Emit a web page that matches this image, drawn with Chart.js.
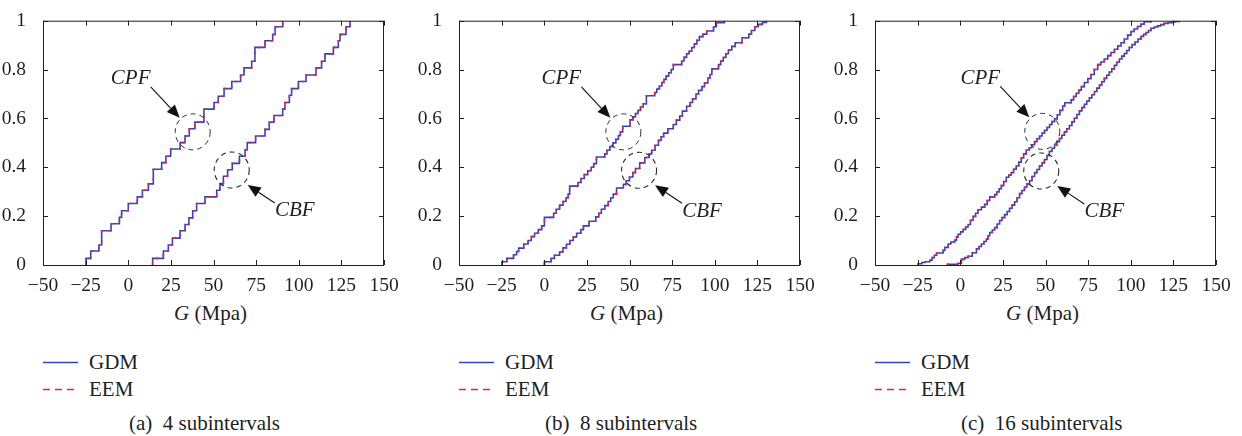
<!DOCTYPE html>
<html>
<head>
<meta charset="utf-8">
<script src="https://cdn.jsdelivr.net/npm/chart.js@4.4.0/dist/chart.umd.min.js"></script>
<style>
body { margin: 0; background: #fff; width: 1242px; height: 436px; overflow: hidden; position: relative;
       font-family: "Liberation Serif", "Times New Roman", Tinos, "Nimbus Roman", "DejaVu Serif", "Noto Serif", FreeSerif, serif; color: #231f20; }
.panel { position: absolute; top: 0; width: 416px; height: 436px; }
.panel canvas { position: absolute; left: 0; top: 0; }
.xlabel { position: absolute; top: 300px; left: 40px; width: 341px; text-align: center; font-size: 21px; line-height: 26px; }
.leg { position: absolute; left: 43px; height: 24px; font-size: 21px; line-height: 24px; }
.leg svg { position: absolute; left: 0; top: 0; }
.leg span { position: absolute; left: 46px; top: 0; }
.caption { position: absolute; left: 129px; top: 410px; font-size: 21px; line-height: 26px; white-space: pre; }
</style>
</head>
<body>
<div id="root"></div>
<script>
// axis ticks
const xTicks = [-50, -25, 0, 25, 50, 75, 100, 125, 150];
const xTickLabels = ['\u221250', '\u221225', '0', '25', '50', '75', '100', '125', '150'];
const yTicks = [0, 0.2, 0.4, 0.6, 0.8, 1];
const yTickLabels = ['0', '0.2', '0.4', '0.6', '0.8', '1'];

const seriesNames = ['GDM', 'EEM'];
const captions = ['(a)  4 subintervals', '(b)  8 subintervals', '(c)  16 subintervals'];

// (a) 4 subintervals
const cpf4X = [-24.8, -24.8, -22.0, -17.2, -15.6, -10.1, -5.2, -3.9, 0.0, 5.3, 8.3, 11.8, 14.7, 19.6, 22.1, 24.9, 30.4, 33.3, 35.8, 39.1, 44.4, 50.3, 52.8, 56.2, 60.7, 65.9, 67.9, 72.4, 74.3, 80.2, 84.7, 86.1, 90.6];
const cpf4Y = [0, 0.027, 0.057, 0.082, 0.14, 0.169, 0.195, 0.222, 0.252, 0.279, 0.306, 0.332, 0.392, 0.419, 0.445, 0.475, 0.501, 0.528, 0.558, 0.585, 0.638, 0.665, 0.691, 0.722, 0.751, 0.778, 0.807, 0.834, 0.891, 0.918, 0.944, 0.975, 1.0];
const cbf4X = [14.3, 14.3, 20.6, 23.5, 25.9, 30.4, 33.3, 35.6, 37.8, 40.1, 45.0, 51.9, 53.8, 55.8, 58.3, 61.0, 65.2, 68.5, 69.8, 74.7, 80.2, 82.7, 85.5, 90.6, 91.9, 94.5, 95.8, 99.8, 104.3, 110.1, 113.4, 115.4, 120.3, 123.2, 124.2, 127.7, 130.1];
const cbf4Y = [0, 0.027, 0.057, 0.082, 0.11, 0.14, 0.166, 0.193, 0.222, 0.252, 0.279, 0.306, 0.332, 0.363, 0.39, 0.416, 0.445, 0.472, 0.501, 0.528, 0.555, 0.585, 0.612, 0.638, 0.665, 0.695, 0.722, 0.751, 0.778, 0.807, 0.834, 0.864, 0.891, 0.918, 0.944, 0.975, 1.0];

// (b) 8 subintervals
const cpf8X = [-24.8, -24.8, -21.9, -18.0, -16.2, -15.0, -12.0, -9.5, -7.6, -5.7, -3.5, -1.5, 0.1, 5.5, 7.0, 9.0, 11.0, 12.8, 14.0, 14.9, 19.8, 21.5, 23.5, 25.5, 27.5, 29.0, 30.6, 35.5, 36.8, 38.5, 40.3, 42.0, 43.5, 44.6, 46.0, 50.3, 52.0, 53.5, 55.0, 56.5, 58.0, 59.9, 64.8, 66.0, 67.5, 69.0, 70.2, 71.5, 73.0, 74.5, 75.7, 80.6, 82.0, 83.5, 85.0, 86.5, 88.0, 89.5, 91.0, 93.0, 95.3, 99.3, 101.0, 105.6];
const cpf8Y = [0, 0.013, 0.027, 0.042, 0.055, 0.069, 0.086, 0.1, 0.116, 0.13, 0.145, 0.16, 0.195, 0.212, 0.228, 0.245, 0.26, 0.275, 0.29, 0.323, 0.338, 0.354, 0.37, 0.386, 0.4, 0.415, 0.442, 0.455, 0.47, 0.485, 0.5, 0.515, 0.53, 0.545, 0.568, 0.594, 0.607, 0.62, 0.633, 0.647, 0.66, 0.693, 0.706, 0.72, 0.733, 0.747, 0.76, 0.773, 0.787, 0.8, 0.82, 0.835, 0.85, 0.865, 0.875, 0.89, 0.905, 0.92, 0.935, 0.945, 0.958, 0.975, 0.992, 1.0];
const cbf8X = [0.1, 0.1, 4.0, 6.0, 9.0, 11.0, 13.0, 15.0, 17.0, 19.0, 21.5, 23.0, 26.3, 30.2, 32.0, 33.5, 35.5, 37.5, 39.0, 40.5, 42.4, 46.4, 48.0, 50.0, 52.0, 53.5, 56.0, 59.0, 61.5, 63.0, 65.0, 67.0, 68.5, 70.0, 72.5, 75.7, 77.5, 79.5, 81.0, 83.5, 85.5, 87.0, 89.0, 90.5, 92.5, 94.0, 96.0, 97.2, 98.3, 102.2, 103.5, 105.0, 106.5, 108.0, 110.0, 112.0, 116.0, 120.0, 121.5, 123.5, 125.5, 128.0, 130.3];
const cbf8Y = [0, 0.013, 0.027, 0.04, 0.053, 0.07, 0.085, 0.1, 0.115, 0.13, 0.145, 0.16, 0.179, 0.197, 0.212, 0.228, 0.243, 0.26, 0.275, 0.29, 0.315, 0.33, 0.345, 0.36, 0.378, 0.395, 0.418, 0.44, 0.455, 0.47, 0.49, 0.51, 0.525, 0.54, 0.558, 0.575, 0.593, 0.61, 0.63, 0.65, 0.665, 0.68, 0.7, 0.715, 0.73, 0.745, 0.765, 0.78, 0.803, 0.82, 0.835, 0.85, 0.865, 0.88, 0.895, 0.91, 0.93, 0.945, 0.96, 0.975, 0.985, 0.993, 1.0];

// (c) 16 subintervals
const cpf16X = [-24.7, -24.7, -22.5, -20.8, -17.8, -16.5, -15.2, -13.9, -10.0, -9.0, -7.1, -5.5, -3.2, -2.2, -1.3, 0.2, 1.7, 3.2, 4.6, 6.0, 7.5, 9.0, 10.4, 12.4, 14.3, 15.8, 17.3, 20.2, 21.5, 22.8, 24.1, 25.5, 27.0, 28.5, 29.9, 31.3, 32.8, 34.3, 35.8, 37.2, 38.7, 40.5, 42.0, 43.6, 45.0, 46.5, 48.0, 49.4, 50.9, 52.4, 53.8, 55.3, 56.9, 58.5, 60.1, 61.3, 65.0, 66.5, 68.0, 69.5, 71.0, 72.8, 74.8, 76.7, 78.6, 80.6, 82.5, 84.5, 86.5, 88.4, 90.4, 92.4, 94.3, 96.2, 98.2, 100.1, 102.0, 104.0, 106.0, 107.9, 111.8];
const cpf16Y = [0, 0.005, 0.01, 0.013, 0.02, 0.03, 0.04, 0.049, 0.06, 0.072, 0.086, 0.094, 0.102, 0.115, 0.126, 0.136, 0.146, 0.156, 0.166, 0.183, 0.199, 0.212, 0.226, 0.237, 0.248, 0.264, 0.279, 0.288, 0.3, 0.312, 0.325, 0.342, 0.359, 0.368, 0.378, 0.392, 0.405, 0.421, 0.438, 0.455, 0.471, 0.48, 0.492, 0.505, 0.517, 0.528, 0.54, 0.551, 0.563, 0.575, 0.587, 0.598, 0.615, 0.633, 0.651, 0.664, 0.676, 0.69, 0.703, 0.716, 0.73, 0.747, 0.763, 0.78, 0.8, 0.82, 0.831, 0.843, 0.857, 0.87, 0.883, 0.897, 0.91, 0.925, 0.941, 0.956, 0.966, 0.976, 0.986, 0.996, 1.0];
const cbf16X = [-7.5, -7.5, -1.3, 0.7, 2.6, 4.6, 7.0, 9.5, 11.0, 12.4, 13.8, 15.3, 16.3, 17.3, 18.8, 20.2, 21.6, 23.1, 24.5, 26.0, 27.5, 28.9, 30.4, 31.9, 33.3, 34.8, 36.2, 37.7, 39.1, 40.6, 42.1, 43.6, 45.0, 46.5, 48.0, 49.4, 50.9, 52.3, 53.8, 55.3, 56.7, 58.2, 59.6, 61.1, 62.5, 64.0, 65.5, 66.9, 68.4, 69.9, 71.3, 72.8, 74.2, 75.7, 77.2, 78.7, 80.1, 81.6, 83.0, 84.5, 85.9, 87.4, 88.9, 90.4, 91.8, 93.3, 94.7, 96.2, 97.6, 99.1, 100.8, 102.6, 104.3, 106.0, 107.5, 109.0, 110.4, 111.8, 113.8, 115.7, 117.6, 119.6, 121.8, 124.0, 126.2, 128.4];
const cbf16Y = [0, 0.003, 0.007, 0.023, 0.03, 0.036, 0.05, 0.066, 0.076, 0.086, 0.096, 0.106, 0.12, 0.133, 0.143, 0.153, 0.168, 0.182, 0.194, 0.206, 0.219, 0.232, 0.245, 0.259, 0.275, 0.292, 0.305, 0.319, 0.332, 0.345, 0.362, 0.378, 0.391, 0.405, 0.418, 0.432, 0.448, 0.465, 0.478, 0.491, 0.505, 0.518, 0.531, 0.545, 0.558, 0.571, 0.586, 0.601, 0.616, 0.631, 0.644, 0.658, 0.671, 0.684, 0.697, 0.71, 0.724, 0.737, 0.75, 0.764, 0.777, 0.79, 0.803, 0.817, 0.83, 0.843, 0.855, 0.866, 0.878, 0.89, 0.902, 0.913, 0.925, 0.936, 0.944, 0.952, 0.96, 0.969, 0.974, 0.979, 0.984, 0.989, 0.992, 0.995, 0.997, 1.0];

// circled regions (data coords) for the CPF / CBF callouts
const cpfMark = [[37.8, 0.545], [46.4, 0.545], [48.1, 0.547]];
const cbfMark = [[60.7, 0.389], [55.6, 0.388], [47.5, 0.385]];

const panels = [
    { cpf: [cpf4X, cpf4Y], cbf: [cbf4X, cbf4Y] },
    { cpf: [cpf8X, cpf8Y], cbf: [cbf8X, cbf8Y] },
    { cpf: [cpf16X, cpf16Y], cbf: [cbf16X, cbf16Y] }
];

const BLUE = '#3346b8';
const RED = '#f0202c';
const INK = '#231f20';
const FONT = '"Liberation Serif", "Times New Roman", Tinos, "Nimbus Roman", "DejaVu Serif", "Noto Serif", FreeSerif, serif';

// callout geometry in pixels relative to the circle centre
const callout = {
    CPF: { label: [-62, -53], from: [-42, -45], to: [-13, -14] },
    CBF: { label: [63, 41], from: [43, 33], to: [16, 15] }
};

function pts(xs, ys) {
    return xs.map((x, i) => ({ x: x, y: ys[i] }));
}

const frame = {
    id: 'frame',
    afterDatasetsDraw(chart, args, opts) {
        const ctx = chart.ctx;
        const a = chart.chartArea;
        const xs = chart.scales.x, ys = chart.scales.y;
        ctx.save();
        ctx.strokeStyle = INK;
        ctx.lineWidth = 1;
        ctx.beginPath();
        xTicks.forEach(v => {
            const px = Math.round(xs.getPixelForValue(v)) + 0.5;
            ctx.moveTo(px, a.bottom); ctx.lineTo(px, a.bottom - 5);
            ctx.moveTo(px, a.top); ctx.lineTo(px, a.top + 5);
        });
        yTicks.forEach(v => {
            const py = Math.round(ys.getPixelForValue(v)) + 0.5;
            ctx.moveTo(a.left, py); ctx.lineTo(a.left + 5, py);
            ctx.moveTo(a.right, py); ctx.lineTo(a.right - 5, py);
        });
        ctx.stroke();
        ctx.strokeRect(a.left + 0.5, a.top + 0.5, a.right - a.left - 1, a.bottom - a.top);

        // dashed circles, arrows and labels
        opts.marks.forEach(m => {
            const cx = xs.getPixelForValue(m.at[0]);
            const cy = ys.getPixelForValue(m.at[1]);
            const g = callout[m.name];
            ctx.strokeStyle = '#2a2a2a';
            ctx.setLineDash([5, 4]);
            ctx.beginPath();
            ctx.ellipse(cx, cy, 17.5, 18, 0, 0, Math.PI * 2);
            ctx.stroke();
            ctx.setLineDash([]);

            const x0 = cx + g.from[0], y0 = cy + g.from[1];
            const x1 = cx + g.to[0], y1 = cy + g.to[1];
            const ang = Math.atan2(y1 - y0, x1 - x0);
            const hl = 13, hw = 5.5;
            const bx = x1 - hl * Math.cos(ang), by = y1 - hl * Math.sin(ang);
            ctx.strokeStyle = '#111';
            ctx.lineWidth = 1.1;
            ctx.beginPath();
            ctx.moveTo(x0, y0); ctx.lineTo(bx, by);
            ctx.stroke();
            ctx.fillStyle = '#111';
            ctx.beginPath();
            ctx.moveTo(x1, y1);
            ctx.lineTo(bx - hw * Math.sin(ang), by + hw * Math.cos(ang));
            ctx.lineTo(bx + hw * Math.sin(ang), by - hw * Math.cos(ang));
            ctx.closePath();
            ctx.fill();

            ctx.fillStyle = INK;
            ctx.font = 'italic 21px ' + FONT;
            ctx.textAlign = 'center';
            ctx.textBaseline = 'middle';
            ctx.fillText(m.name, cx + g.label[0], cy + g.label[1]);
        });
        ctx.restore();
    }
};

const root = document.getElementById('root');

panels.forEach((p, i) => {
    const div = document.createElement('div');
    div.className = 'panel';
    div.style.left = (i * 416) + 'px';
    div.innerHTML = `
        <canvas width="400" height="300"></canvas>
        <div class="xlabel"><i>G</i> (Mpa)</div>
        <div class="leg" style="top:350px">
            <svg width="40" height="24"><line x1="0" y1="12.5" x2="35" y2="12.5" stroke="${BLUE}" stroke-width="1.3"/></svg>
            <span>${seriesNames[0]}</span>
        </div>
        <div class="leg" style="top:377px">
            <svg width="40" height="24"><line x1="0" y1="12.5" x2="35" y2="12.5" stroke="${RED}" stroke-width="1.3" stroke-dasharray="7,5"/></svg>
            <span>${seriesNames[1]}</span>
        </div>
        <div class="caption">${captions[i]}</div>`;
    root.appendChild(div);

    const line = (data, color, dash, width) => ({
        data: data,
        borderColor: color,
        borderWidth: width,
        borderDash: dash,
        stepped: true,
        pointRadius: 0,
        fill: false
    });

    const cpf = pts(p.cpf[0], p.cpf[1]);
    const cbf = pts(p.cbf[0], p.cbf[1]);

    new Chart(div.querySelector('canvas'), {
        type: 'line',
        data: {
            datasets: [
                // EEM dashes drawn on top of the GDM solid line
                Object.assign(line(cpf, RED, [2.5, 7], 1.6), { label: seriesNames[1] }),
                Object.assign(line(cbf, RED, [2.5, 7], 1.6), { label: seriesNames[1] }),
                Object.assign(line(cpf, BLUE, [], 1.6), { label: seriesNames[0] }),
                Object.assign(line(cbf, BLUE, [], 1.6), { label: seriesNames[0] })
            ]
        },
        options: {
            responsive: false,
            devicePixelRatio: 1,
            animation: false,
            layout: { padding: { top: 14, right: 16, left: 0, bottom: 0 } },
            plugins: {
                legend: { display: false },
                tooltip: { enabled: false },
                frame: { marks: [{ name: 'CPF', at: cpfMark[i] }, { name: 'CBF', at: cbfMark[i] }] }
            },
            scales: {
                x: {
                    type: 'linear', min: -50, max: 150,
                    afterBuildTicks: s => { s.ticks = xTicks.map(v => ({ value: v })); },
                    afterFit: s => { s.height = 35; },
                    grid: { display: false },
                    border: { display: false },
                    ticks: {
                        maxRotation: 0, autoSkip: false, padding: 1,
                        color: INK, font: { family: FONT, size: 19.5 },
                        callback: v => xTickLabels[xTicks.indexOf(v)]
                    }
                },
                y: {
                    min: 0, max: 1,
                    afterBuildTicks: s => { s.ticks = yTicks.map(v => ({ value: v })); },
                    afterFit: s => { s.width = 43; },
                    grid: { display: false },
                    border: { display: false },
                    ticks: {
                        padding: 9, color: INK, font: { family: FONT, size: 19.5 },
                        callback: v => yTickLabels[yTicks.indexOf(v)]
                    }
                }
            }
        },
        plugins: [frame]
    });
});
</script>
</body>
</html>
